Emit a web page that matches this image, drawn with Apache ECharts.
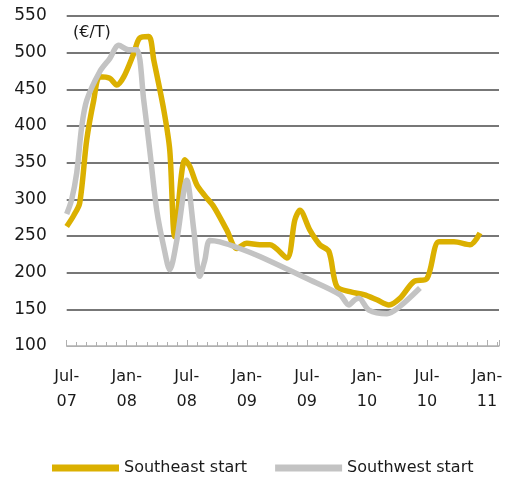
<!DOCTYPE html>
<html>
<head>
<meta charset="utf-8">
<script src="https://cdn.jsdelivr.net/npm/echarts@6/dist/echarts.min.js"></script>
<style>
  html, body { margin: 0; padding: 0; background: #fff; }
  #main { width: 508px; height: 485px; }
</style>
</head>
<body>
<div id="main"></div>
<script>
// months counted from Jul-07
var tickLabels = ['Jul-\n07', 'Jan-\n08', 'Jul-\n08', 'Jan-\n09', 'Jul-\n09', 'Jan-\n10', 'Jul-\n10', 'Jan-\n11'];

var southeastMonths = [0, 0.7, 1.3, 2, 2.7, 3.3, 4.3, 5, 5.7, 6.7, 7.3, 8.2, 8.7, 9.7, 10.3, 10.8, 11.8, 12.3, 13, 13.8, 14.7, 16, 17, 18, 19.3, 20.3, 22, 22.8, 23.3, 24.3, 25.3, 26.2, 27, 28.3, 29.7, 31, 32.2, 33.3, 34.7, 36, 37.2, 38.7, 40.3, 41.3];
var southeastValues = [263, 278, 295, 381, 435, 467, 465, 456, 467, 499, 520, 522, 490, 422, 367, 249, 354, 345, 320, 305, 290, 258, 233, 240, 238, 238, 220, 272, 285, 258, 238, 229, 181, 174, 170, 163, 156, 165, 188, 192, 242, 242, 238, 254];

var southwestMonths = [0, 0.5, 1, 1.5, 2, 3.3, 4.3, 5.2, 6.2, 7, 7.7, 8.3, 9, 9.7, 10.3, 11, 12, 12.7, 13.3, 13.8, 14.3, 15.3, 17.3, 19.3, 24, 27.3, 28.2, 28.8, 29.2, 30.2, 32, 33.3, 35.3];
var southwestValues = [280, 300, 336, 399, 435, 474, 492, 510, 504, 504, 435, 367, 285, 235, 204, 244, 326, 258, 195, 217, 244, 242, 233, 222, 192, 170, 156, 163, 165, 149, 144, 154, 179];

function pairs(xs, ys) {
  var out = [];
  for (var i = 0; i < xs.length; i++) out.push([xs[i], ys[i]]);
  return out;
}

var chart = echarts.init(document.getElementById('main'), null, { renderer: 'canvas' });
var font = 'DejaVu Sans';

chart.setOption({
  backgroundColor: '#ffffff',
  animation: false,
  textStyle: { fontFamily: font, color: '#1a1a1a' },
  grid: { left: 66.7, right: 9, top: 16, bottom: 139 },
  graphic: [{
    type: 'text',
    left: 73, top: 25,
    style: { text: '(€/T)', font: '16px "DejaVu Sans"', fill: '#1a1a1a' }
  }],
  legend: {
    bottom: 4,
    left: 47,
    itemWidth: 67,
    itemHeight: 7,
    itemGap: 28,
    icon: 'rect',
    textStyle: { fontSize: 16, color: '#1a1a1a', fontFamily: font },
    data: ['Southeast start', 'Southwest start']
  },
  xAxis: {
    type: 'value',
    min: 0,
    max: 43.2,
    interval: 6,
    axisLine: { show: true, lineStyle: { color: '#b0b0b0', width: 1 } },
    axisTick: { show: true, inside: true, length: 6, lineStyle: { color: '#b0b0b0' } },
    minorTick: { show: true, splitNumber: 6, length: 4, lineStyle: { color: '#b0b0b0' } },
    splitLine: { show: false },
    axisLabel: {
      margin: 18,
      fontSize: 16,
      lineHeight: 25,
      color: '#1a1a1a',
      showMaxLabel: false,
      formatter: function (v) {
        var i = Math.round(v / 6);
        return tickLabels[i] || '';
      }
    }
  },
  yAxis: {
    type: 'value',
    min: 100,
    max: 550,
    interval: 50,
    axisLine: { show: false },
    axisTick: { show: false },
    axisLabel: { margin: 20, fontSize: 17, color: '#1a1a1a' },
    splitLine: {
      lineStyle: {
        width: 1.5,
        color: ['#b0b0b0', '#4a4a4a', '#4a4a4a', '#4a4a4a', '#4a4a4a', '#4a4a4a', '#4a4a4a', '#4a4a4a', '#4a4a4a', '#4a4a4a']
      }
    }
  },
  series: [{
    name: 'Southeast start',
    type: 'line',
    smooth: 0.3,
    symbol: 'none',
    color: '#dbb000',
    lineStyle: { width: 5.5, color: '#dbb000' },
    data: pairs(southeastMonths, southeastValues)
  }, {
    name: 'Southwest start',
    type: 'line',
    smooth: 0.3,
    symbol: 'none',
    color: '#c3c3c3',
    lineStyle: { width: 5.5, color: '#c3c3c3' },
    data: pairs(southwestMonths, southwestValues)
  }]
});
</script>
</body>
</html>
